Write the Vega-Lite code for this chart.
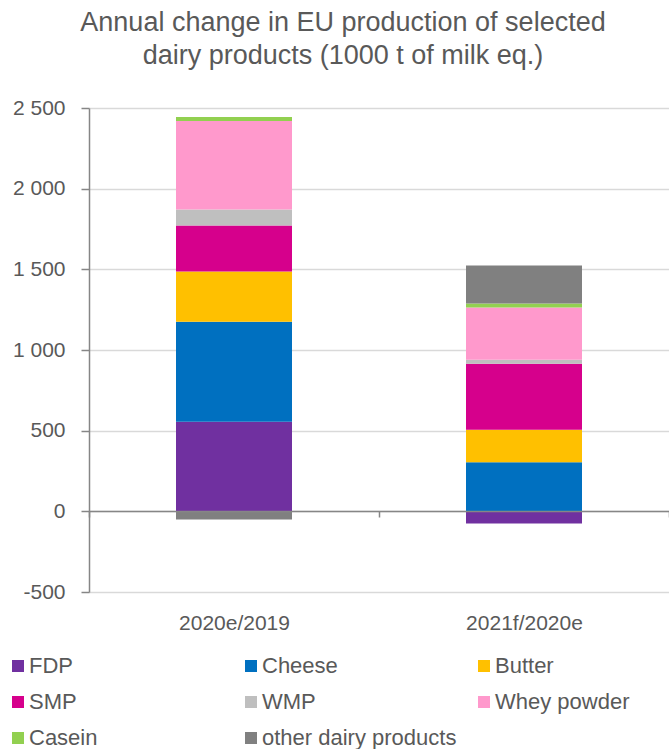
{
  "$schema": "https://vega.github.io/schema/vega-lite/v6.json",
  "width": 580,
  "height": 484,
  "autosize": {"type": "none"},
  "padding": {"left": 89, "top": 108, "right": 0, "bottom": 157},
  "background": "white",
  "config": {
    "font": "Liberation Sans, Arial, sans-serif",
    "view": {"stroke": null}
  },
  "title": {
    "text": ["Annual change in EU production of selected", "dairy products (1000 t of milk eq.)"],
    "anchor": "middle",
    "frame": "group",
    "dx": -36,
    "offset": 27,
    "fontSize": 27,
    "fontWeight": "normal",
    "lineHeight": 33,
    "color": "#595959"
  },
  "data": {
    "values": [
      {"period": "2020e/2019", "product": "FDP", "idx": 1, "value": 555},
      {"period": "2020e/2019", "product": "Cheese", "idx": 2, "value": 620},
      {"period": "2020e/2019", "product": "Butter", "idx": 3, "value": 312},
      {"period": "2020e/2019", "product": "SMP", "idx": 4, "value": 284},
      {"period": "2020e/2019", "product": "WMP", "idx": 5, "value": 100},
      {"period": "2020e/2019", "product": "Whey powder", "idx": 6, "value": 548},
      {"period": "2020e/2019", "product": "Casein", "idx": 7, "value": 25},
      {"period": "2020e/2019", "product": "other dairy products", "idx": 8, "value": -50},
      {"period": "2021f/2020e", "product": "FDP", "idx": 1, "value": -75},
      {"period": "2021f/2020e", "product": "Cheese", "idx": 2, "value": 305},
      {"period": "2021f/2020e", "product": "Butter", "idx": 3, "value": 200},
      {"period": "2021f/2020e", "product": "SMP", "idx": 4, "value": 410},
      {"period": "2021f/2020e", "product": "WMP", "idx": 5, "value": 25},
      {"period": "2021f/2020e", "product": "Whey powder", "idx": 6, "value": 323},
      {"period": "2021f/2020e", "product": "Casein", "idx": 7, "value": 25},
      {"period": "2021f/2020e", "product": "other dairy products", "idx": 8, "value": 236}
    ]
  },
  "mark": {"type": "bar", "size": 116},
  "encoding": {
    "x": {
      "field": "period",
      "type": "nominal",
      "sort": null,
      "scale": {"paddingInner": 0, "paddingOuter": 0},
      "axis": {
        "title": null,
        "labelAngle": 0,
        "offset": -81,
        "zindex": 1,
        "domainColor": "#868686",
        "domainWidth": 1.5,
        "ticks": true,
        "tickBand": "extent",
        "tickSize": 6,
        "tickColor": "#868686",
        "tickWidth": 1.5,
        "labelPadding": 95,
        "labelFontSize": 21,
        "labelColor": "#595959"
      }
    },
    "y": {
      "field": "value",
      "type": "quantitative",
      "stack": "zero",
      "scale": {"domain": [-500, 2500], "nice": false, "zero": false},
      "axis": {
        "title": null,
        "values": [-500, 0, 500, 1000, 1500, 2000, 2500],
        "labelExpr": "replace(replace(format(datum.value, ','), ',', ' '), '\u2212', '-')",
        "domainColor": "#868686",
        "domainWidth": 1.5,
        "tickColor": "#868686",
        "tickWidth": 1.5,
        "tickSize": 8,
        "labelPadding": 16,
        "labelFontSize": 21,
        "labelColor": "#595959",
        "gridColor": "#d9d9d9",
        "gridWidth": 1.5
      }
    },
    "order": {"field": "idx", "type": "quantitative", "sort": "ascending"},
    "color": {
      "field": "product",
      "type": "nominal",
      "scale": {
        "domain": ["FDP", "Cheese", "Butter", "SMP", "WMP", "Whey powder", "Casein", "other dairy products"],
        "range": ["#7030A0", "#0070C0", "#FFC000", "#D6008C", "#BFBFBF", "#FF99CC", "#92D050", "#808080"]
      },
      "legend": {
        "title": null,
        "orient": "none",
        "direction": "horizontal",
        "legendX": -82,
        "legendY": 547,
        "columns": 3,
        "gridAlign": "all",
        "columnPadding": 16,
        "rowPadding": 14,
        "symbolType": "square",
        "symbolSize": 144,
        "symbolStrokeWidth": 0,
        "labelOffset": 0,
        "labelFontSize": 22,
        "labelColor": "#595959",
        "labelLimit": 400
      }
    }
  }
}
